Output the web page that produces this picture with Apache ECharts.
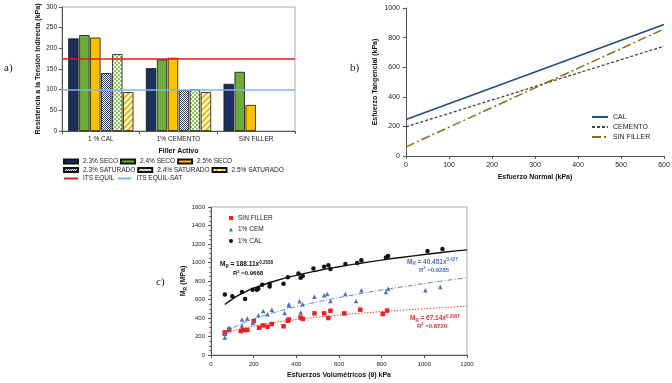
<!DOCTYPE html>
<html>
<head>
<meta charset="utf-8">
<script src="https://cdn.jsdelivr.net/npm/echarts@6/dist/echarts.min.js"></script>
<style>
html, body { margin: 0; padding: 0; background: #fff; }
#chart { width: 672px; height: 383px; }
</style>
</head>
<body>
<div id="chart"></div>
<script>
// a) resistencia a la tension indirecta
var fillerCats = ['1 % CAL', '1% CEMENTO', 'SIN FILLER'];
var seco23 = [224, 152, 114];
var seco24 = [232, 173, 143];
var seco25 = [226, 177, 63];
var sat23 = [140, 99, null];
var sat24 = [186, 101, null];
var sat25 = [94, 94, null];
var itsEquil = 174;
var itsEquilSat = 99;

// b) esfuerzo normal vs tangencial
var normalX = [0, 600];
var calLine = [247, 888];
var cementoLine = [197, 742];
var sinFillerLine = [62, 858];

// c) modulo resiliente
var calPts = [[65,655],[100,635],[145,680],[160,605],[195,705],[215,705],[222,715],[240,760],[275,770],[275,740],[340,770],[360,840],[410,880],[420,835],[430,855],[480,935],[530,955],[550,970],[560,930],[630,985],[685,995],[705,1025],[820,1055],[830,1070],[1015,1125],[1085,1145]];
var cemPts = [[65,230],[65,190],[85,295],[145,385],[145,320],[170,395],[195,345],[222,430],[245,475],[265,440],[285,490],[345,455],[365,550],[365,535],[415,580],[420,460],[430,550],[485,630],[530,645],[545,660],[560,585],[630,660],[680,585],[705,700],[820,680],[830,715],[1005,700],[1075,735]];
var sinPts = [[65,245],[65,230],[85,275],[140,258],[150,270],[170,270],[200,365],[225,295],[245,320],[265,305],[285,335],[340,310],[365,385],[360,370],[420,405],[430,390],[485,450],[530,450],[550,400],[560,478],[625,450],[700,490],[805,443],[825,480]];
var trendX = [65, 100, 150, 200, 300, 400, 500, 600, 700, 800, 900, 1000, 1100, 1200];
var calTrend = [545, 605, 670, 722, 800, 861, 911, 954, 992, 1026, 1057, 1086, 1113, 1137];
var cemTrend = [240, 289, 344, 389, 462, 522, 575, 621, 663, 703, 738, 773, 805, 835];
var sinTrend = [226, 256, 288, 313, 352, 383, 409, 431, 451, 469, 485, 500, 514, 528];

var FONT = 'Liberation Sans, Arial, sans-serif';

function pattern(size, draw) {
    var c = document.createElement('canvas');
    c.width = size; c.height = size;
    var ctx = c.getContext('2d');
    ctx.fillStyle = '#fff';
    ctx.fillRect(0, 0, size, size);
    draw(ctx);
    return { image: c, repeat: 'repeat' };
}
var navyDots = pattern(2, function (ctx) {
    ctx.fillStyle = '#2a4070';
    ctx.fillRect(0, 0, 1, 1);
    ctx.fillRect(1, 1, 1, 1);
});
var greenCheck = pattern(4, function (ctx) {
    ctx.fillStyle = '#8cc552';
    ctx.fillRect(0, 0, 2, 2);
    ctx.fillRect(2, 2, 2, 2);
});
var yellowStripe = pattern(6, function (ctx) {
    ctx.strokeStyle = '#f5b800';
    ctx.lineWidth = 2;
    ctx.beginPath();
    ctx.moveTo(0, 6); ctx.lineTo(6, 0);
    ctx.moveTo(-2, 2); ctx.lineTo(2, -2);
    ctx.moveTo(4, 8); ctx.lineTo(8, 4);
    ctx.stroke();
});

function zip(xs, ys) {
    var out = [];
    for (var i = 0; i < xs.length; i++) out.push([xs[i], ys[i]]);
    return out;
}

function barSeries(name, data, color) {
    return {
        name: name, type: 'bar', xAxisIndex: 0, yAxisIndex: 0, data: data,
        barGap: '6%', barCategoryGap: '16%',
        itemStyle: { color: color, borderColor: '#111', borderWidth: 0.8 }
    };
}

function plain(v) { return String(v); }

var axisText = { color: '#222', fontFamily: FONT, formatter: plain };
var nameText = { color: '#111', fontFamily: FONT, fontWeight: 'bold', fontSize: 7 };
var darkLine = { lineStyle: { color: '#555', width: 1 } };

function eq(x, y, color, coef, pow, rx, ry, r2) {
    var base = { fontFamily: FONT, fontWeight: 'bold', fill: color };
    return {
        type: 'group',
        children: [
            {
                type: 'text', x: x, y: y,
                style: Object.assign({
                    text: '{m|M}{s|R}{m| = ' + coef + 'x}{p|' + pow + '}',
                    verticalAlign: 'middle',
                    rich: {
                        m: Object.assign({ fontSize: 6.5, lineHeight: 9 }, base),
                        s: Object.assign({ fontSize: 4.5, lineHeight: 5, verticalAlign: 'bottom' }, base),
                        p: Object.assign({ fontSize: 4.5, lineHeight: 5, verticalAlign: 'top' }, base)
                    }
                }, base)
            },
            {
                type: 'text', x: rx, y: ry,
                style: Object.assign({
                    text: '{m|R}{p|2}{m| =' + r2 + '}',
                    verticalAlign: 'middle',
                    rich: {
                        m: Object.assign({ fontSize: 6, lineHeight: 8 }, base),
                        p: Object.assign({ fontSize: 4, lineHeight: 4, verticalAlign: 'top' }, base)
                    }
                }, base)
            }
        ]
    };
}

var chart = echarts.init(document.getElementById('chart'), null, { renderer: 'canvas' });

var option = {
    backgroundColor: '#fff',
    animation: false,
    textStyle: { fontFamily: FONT },
    grid: [
        { left: 62, top: 7, width: 233, height: 124, show: true, borderColor: '#aaa', borderWidth: 1, outerBoundsMode: 'none' },
        { left: 406, top: 8, width: 258, height: 148, outerBoundsMode: 'none' },
        { left: 211, top: 207, width: 256, height: 148, show: true, borderColor: '#aaa', borderWidth: 1, outerBoundsMode: 'none' }
    ],
    xAxis: [
        {
            gridIndex: 0, type: 'category', data: fillerCats,
            name: 'Filler Activo', nameLocation: 'middle', nameGap: 17, nameTextStyle: nameText,
            axisLine: darkLine, axisTick: { show: true, length: 3, lineStyle: { color: '#555' } },
            axisLabel: { fontSize: 6.5, margin: 5, color: '#222', fontFamily: FONT },
            splitLine: { show: false }
        },
        {
            gridIndex: 1, type: 'value', min: 0, max: 600, interval: 100,
            name: 'Esfuerzo Normal (kPa)', nameLocation: 'middle', nameGap: 18, nameTextStyle: nameText,
            axisLine: { show: true, lineStyle: { color: '#555' } },
            axisTick: { show: true, length: 3, lineStyle: { color: '#555' } },
            axisLabel: Object.assign({ fontSize: 7, margin: 6 }, axisText),
            splitLine: { show: false }
        },
        {
            gridIndex: 2, type: 'value', min: 0, max: 1200, interval: 200,
            name: 'Esfuerzos Volumétricos (θ) kPa', nameLocation: 'middle', nameGap: 17, nameTextStyle: nameText,
            axisLine: { show: true, lineStyle: { color: '#555' } },
            axisTick: { show: true, length: 3, lineStyle: { color: '#555' } },
            axisLabel: Object.assign({ fontSize: 6, margin: 6 }, axisText),
            splitLine: { show: false }
        }
    ],
    yAxis: [
        {
            gridIndex: 0, type: 'value', min: 0, max: 300, interval: 50,
            name: 'Resistencia a la Tensión Indirecta (kPa)', nameLocation: 'middle', nameRotate: 90, nameGap: 20,
            nameTextStyle: Object.assign({}, nameText, { fontSize: 7 }),
            axisLine: { show: true, lineStyle: { color: '#555' } },
            axisTick: { show: true, length: 3, lineStyle: { color: '#555' } },
            axisLabel: Object.assign({ fontSize: 6.5, margin: 5 }, axisText),
            splitLine: { show: false }
        },
        {
            gridIndex: 1, type: 'value', min: 0, max: 1000, interval: 200,
            name: 'Esfuerzo Tangencial (kPa)', nameLocation: 'middle', nameRotate: 90, nameGap: 27, nameTextStyle: nameText,
            axisLine: { show: true, lineStyle: { color: '#555' } },
            axisTick: { show: true, length: 3, lineStyle: { color: '#555' } },
            axisLabel: Object.assign({ fontSize: 7, margin: 6 }, axisText),
            splitLine: { show: false }
        },
        {
            gridIndex: 2, type: 'value', min: 0, max: 1600, interval: 200,
            name: 'M{s|R} (MPa)', nameLocation: 'middle', nameRotate: 90, nameGap: 22,
            nameTextStyle: Object.assign({}, nameText, {
                lineHeight: 9,
                rich: { s: { fontSize: 5, fontWeight: 'bold', fontFamily: FONT, color: '#111', lineHeight: 5, verticalAlign: 'bottom' } }
            }),
            axisLine: { show: true, lineStyle: { color: '#555' } },
            axisTick: { show: true, length: 3, lineStyle: { color: '#555' } },
            minorTick: { show: true, splitNumber: 4, length: 2, lineStyle: { color: '#777' } },
            axisLabel: Object.assign({ fontSize: 6, margin: 6 }, axisText),
            splitLine: { show: false }
        }
    ],
    legend: [
        {
            top: 158, left: 63, icon: 'rect', itemWidth: 14, itemHeight: 4, itemGap: 2, padding: 0,
            textStyle: { fontSize: 6.5, color: '#222', fontFamily: FONT, width: 58 },
            data: ['2.3% SECO', '2.4% SECO', '2.5% SECO']
        },
        {
            top: 166.5, left: 63, icon: 'rect', itemWidth: 14, itemHeight: 4, itemGap: 2, padding: 0,
            textStyle: { fontSize: 6.5, color: '#222', fontFamily: FONT, width: 58 },
            data: ['2.3% SATURADO', '2.4% SATURADO', '2.5% SATURADO']
        },
        {
            top: 175, left: 63, itemWidth: 14, itemHeight: 4, itemGap: 2, padding: 0,
            itemStyle: { opacity: 0 },
            textStyle: { fontSize: 6.5, color: '#222', fontFamily: FONT, width: 58 },
            data: ['ITS EQUIL', 'ITS EQUIL-SAT']
        },
        {
            top: 113, left: 591, orient: 'vertical', itemWidth: 16, itemHeight: 8, itemGap: 2, padding: 0,
            itemStyle: { opacity: 0 },
            textStyle: { fontSize: 7, color: '#222', fontFamily: FONT, lineHeight: 8 },
            data: ['CAL', 'CEMENTO', 'SIN FILLER']
        },
        {
            top: 214.5, left: 229, orient: 'vertical', itemWidth: 4, itemHeight: 4, itemGap: 4.5, padding: 0,
            textStyle: { fontSize: 6.5, color: '#222', fontFamily: FONT },
            data: ['SIN FILLER ', '1% CEM', '1% CAL']
        }
    ],
    series: [
        barSeries('2.3% SECO', seco23, '#1c2f5e'),
        barSeries('2.4% SECO', seco24, '#6dac3a'),
        barSeries('2.5% SECO', seco25, '#ffc000'),
        barSeries('2.3% SATURADO', sat23, navyDots),
        barSeries('2.4% SATURADO', sat24, greenCheck),
        barSeries('2.5% SATURADO', sat25, yellowStripe),
        {
            name: 'ITS EQUIL', type: 'line', xAxisIndex: 0, yAxisIndex: 0, data: [], symbol: 'none',
            lineStyle: { color: '#e01818', width: 1.5 }, itemStyle: { color: '#e01818' },
            markLine: { silent: true, symbol: 'none', label: { show: false }, lineStyle: { color: '#e01818', width: 1.5, type: 'solid' }, data: [{ yAxis: itsEquil }] }
        },
        {
            name: 'ITS EQUIL-SAT', type: 'line', xAxisIndex: 0, yAxisIndex: 0, data: [], symbol: 'none',
            lineStyle: { color: '#7fb7e8', width: 1.5 }, itemStyle: { color: '#7fb7e8' },
            markLine: { silent: true, symbol: 'none', label: { show: false }, lineStyle: { color: '#7fb7e8', width: 1.5, type: 'solid' }, data: [{ yAxis: itsEquilSat }] }
        },
        {
            name: 'CAL', type: 'line', xAxisIndex: 1, yAxisIndex: 1, data: zip(normalX, calLine), symbol: 'none',
            lineStyle: { color: '#1f4e86', width: 1.6 }, itemStyle: { color: '#1f4e86' }
        },
        {
            name: 'CEMENTO', type: 'line', xAxisIndex: 1, yAxisIndex: 1, data: zip(normalX, cementoLine), symbol: 'none',
            lineStyle: { color: '#444', width: 1.3, type: [3, 2] }, itemStyle: { color: '#444' }
        },
        {
            name: 'SIN FILLER', type: 'line', xAxisIndex: 1, yAxisIndex: 1, data: zip(normalX, sinFillerLine), symbol: 'none',
            lineStyle: { color: '#8c6d12', width: 1.5, type: [9, 3, 2, 3] }, itemStyle: { color: '#8c6d12' }
        },
        {
            name: 'trend CAL', type: 'line', xAxisIndex: 2, yAxisIndex: 2, data: zip(trendX, calTrend), symbol: 'none', smooth: true,
            lineStyle: { color: '#111', width: 1.4 }, z: 3
        },
        {
            name: 'trend CEM', type: 'line', xAxisIndex: 2, yAxisIndex: 2, data: zip(trendX, cemTrend), symbol: 'none', smooth: true,
            lineStyle: { color: '#4a72c0', width: 0.9, type: [5, 2, 1, 2] }, z: 3
        },
        {
            name: 'trend SIN', type: 'line', xAxisIndex: 2, yAxisIndex: 2, data: zip(trendX, sinTrend), symbol: 'none', smooth: true,
            lineStyle: { color: '#f03c3c', width: 1, type: [1.5, 1.5] }, z: 3
        },
        {
            name: 'SIN FILLER ', type: 'scatter', xAxisIndex: 2, yAxisIndex: 2, data: sinPts,
            symbol: 'rect', symbolSize: 4.5, itemStyle: { color: '#ee2020', opacity: 1 }, z: 4
        },
        {
            name: '1% CEM', type: 'scatter', xAxisIndex: 2, yAxisIndex: 2, data: cemPts,
            symbol: 'triangle', symbolSize: 4.5, itemStyle: { color: '#4472c4', opacity: 1 }, z: 4
        },
        {
            name: '1% CAL', type: 'scatter', xAxisIndex: 2, yAxisIndex: 2, data: calPts,
            symbol: 'circle', symbolSize: 4.5, itemStyle: { color: '#111', opacity: 1 }, z: 4
        }
    ],
    graphic: [
        { type: 'text', x: 4, y: 68, style: { text: 'a)', fontFamily: 'Liberation Serif, serif', fontSize: 11, fill: '#222', verticalAlign: 'middle' } },
        { type: 'text', x: 350, y: 68, style: { text: 'b)', fontFamily: 'Liberation Serif, serif', fontSize: 11, fill: '#222', verticalAlign: 'middle' } },
        { type: 'text', x: 156, y: 282, style: { text: 'c)', fontFamily: 'Liberation Serif, serif', fontSize: 11, fill: '#222', verticalAlign: 'middle' } },
        eq(220, 264.5, '#111', '188.11', '0.2538', 233, 273.5, '0.9668'),
        eq(407, 262, '#4472c4', '40.451', '0.427', 419, 270, '0.9285'),
        eq(410, 318.5, '#e83030', '67.14', '0.2907', 417, 326, '0.8726')
    ]
};

chart.setOption(option);
window.onresize = function () {
    chart.resize();
};
</script>
</body>
</html>
